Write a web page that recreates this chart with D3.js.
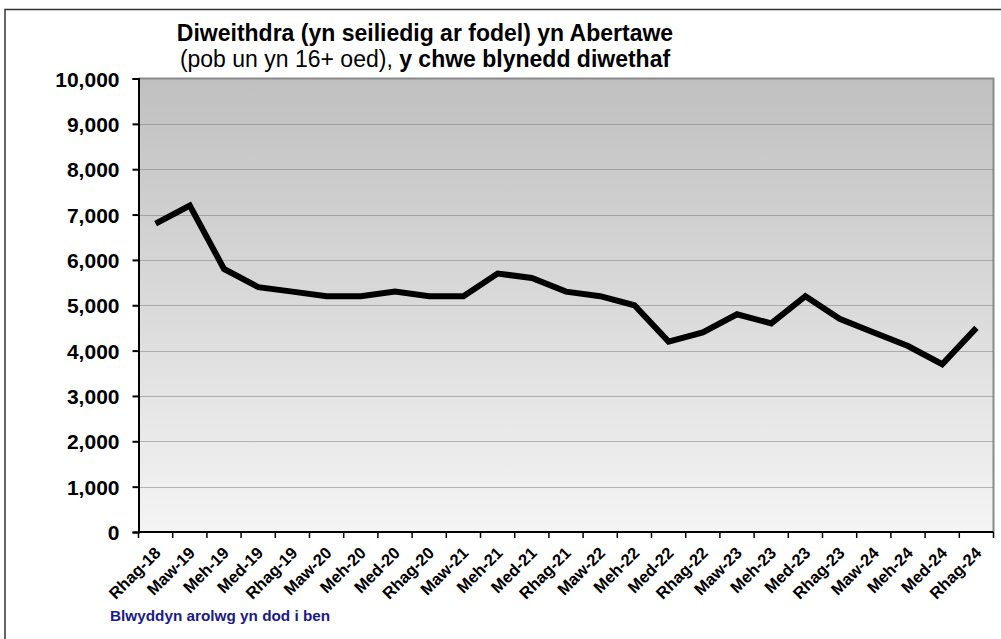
<!DOCTYPE html>
<html>
<head>
<meta charset="utf-8">
<script src="https://cdn.jsdelivr.net/npm/d3@7"></script>
<style>
  body { margin: 0; background: #fff; }
  svg { display: block; font-family: Arial, "Liberation Sans", sans-serif; }
</style>
</head>
<body>
<svg id="chart" width="1001" height="639"></svg>
<script>
"use strict";

var periods = ["Rhag-18", "Maw-19", "Meh-19", "Med-19", "Rhag-19", "Maw-20", "Meh-20", "Med-20",
    "Rhag-20", "Maw-21", "Meh-21", "Med-21", "Rhag-21", "Maw-22", "Meh-22", "Med-22",
    "Rhag-22", "Maw-23", "Meh-23", "Med-23", "Rhag-23", "Maw-24", "Meh-24", "Med-24", "Rhag-24"];
var unemployed = [6800, 7200, 5800, 5400, 5300, 5200, 5200, 5300,
    5200, 5200, 5700, 5600, 5300, 5200, 5000, 4200,
    4400, 4800, 4600, 5200, 4700, 4400, 4100, 3700, 4500];
var yTicks = [0, 1000, 2000, 3000, 4000, 5000, 6000, 7000, 8000, 9000, 10000];

(function () {
    var svg = d3.select("#chart"),
        left = 138.5,
        right = 993.5,
        top = 78.5,
        bottom = 532,
        fmt = d3.format(","),
        x,
        y,
        grad;

    // outer chart frame
    svg.append("path")
        .attr("d", "M5,645V9.5H1010")
        .attr("fill", "none")
        .attr("stroke", "#333")
        .attr("stroke-width", 1.5);

    grad = svg.append("defs").append("linearGradient")
        .attr("id", "bg")
        .attr("x1", 0).attr("y1", 0).attr("x2", 0).attr("y2", 1);
    grad.append("stop").attr("offset", "0%").attr("stop-color", "#c0c0c0");
    grad.append("stop").attr("offset", "100%").attr("stop-color", "#f4f4f4");

    x = d3.scaleBand().domain(periods).range([left, right]);
    y = d3.scaleLinear().domain([0, 10000]).range([bottom, top]);

    svg.append("rect")
        .attr("x", left).attr("y", top)
        .attr("width", right - left).attr("height", bottom - top)
        .attr("fill", "url(#bg)");

    // dotted gridlines
    svg.append("g").selectAll("line")
        .data(yTicks.filter(function (d) { return d > 0 && d < 10000; }))
        .join("line")
        .attr("x1", left).attr("x2", right)
        .attr("y1", function (d) { return Math.round(y(d)) + 0.5; })
        .attr("y2", function (d) { return Math.round(y(d)) + 0.5; })
        .attr("stroke", "#777")
        .attr("stroke-width", 1)
        .attr("stroke-dasharray", "1,1");

    // top and right plot border
    svg.append("path")
        .attr("d", "M" + left + "," + top + "H" + right + "V" + bottom)
        .attr("fill", "none")
        .attr("stroke", "#8a8a8a")
        .attr("stroke-width", 2);

    // y axis
    var yAxis = svg.append("g")
        .attr("transform", "translate(" + left + ",0)")
        .call(d3.axisLeft(y).tickValues(yTicks).tickFormat(fmt).tickSize(6).tickPadding(13));
    yAxis.select(".domain").attr("stroke", "#000").attr("stroke-width", 2);
    yAxis.selectAll(".tick line").attr("stroke", "#000").attr("stroke-width", 2);
    yAxis.selectAll("text")
        .attr("font-size", 21)
        .attr("font-weight", "bold")
        .attr("fill", "#000")
        .attr("dy", "0.36em");

    // x axis: ticks between categories
    var xg = svg.append("g");
    xg.append("line")
        .attr("x1", left).attr("x2", right)
        .attr("y1", bottom).attr("y2", bottom)
        .attr("stroke", "#000").attr("stroke-width", 2);
    xg.selectAll("line.tick")
        .data(periods.concat(["end"]))
        .join("line")
        .attr("class", "tick")
        .attr("x1", function (d, i) { return left + i * x.step(); })
        .attr("x2", function (d, i) { return left + i * x.step(); })
        .attr("y1", bottom).attr("y2", bottom + 6)
        .attr("stroke", "#000").attr("stroke-width", 1.5);
    xg.selectAll("text")
        .data(periods)
        .join("text")
        .attr("transform", function (d) {
            return "translate(" + (x(d) + x.bandwidth() / 2 + 2) + "," + (bottom + 18) + ") rotate(-45)";
        })
        .attr("text-anchor", "end")
        .attr("dy", "0.35em")
        .attr("font-size", 16.5)
        .attr("font-weight", "bold")
        .attr("fill", "#000")
        .text(function (d) { return d; });

    // series line
    svg.append("path")
        .datum(unemployed)
        .attr("fill", "none")
        .attr("stroke", "#000")
        .attr("stroke-width", 6)
        .attr("stroke-linejoin", "miter")
        .attr("d", d3.line()
            .x(function (d, i) { return x(periods[i]) + x.bandwidth() / 2; })
            .y(function (d) { return y(d); }));

    // titles
    svg.append("text")
        .attr("x", 425).attr("y", 41)
        .attr("text-anchor", "middle")
        .attr("font-size", 23)
        .attr("font-weight", "bold")
        .text("Diweithdra (yn seiliedig ar fodel) yn Abertawe");

    var sub = svg.append("text")
        .attr("x", 425).attr("y", 67)
        .attr("text-anchor", "middle")
        .attr("font-size", 23);
    sub.append("tspan").text("(pob un yn 16+ oed), ");
    sub.append("tspan").attr("font-weight", "bold").text("y chwe blynedd diwethaf");

    svg.append("text")
        .attr("x", 110).attr("y", 621)
        .attr("font-size", 15.3)
        .attr("font-weight", "bold")
        .attr("fill", "#1a1a8a")
        .text("Blwyddyn arolwg yn dod i ben");
}());
</script>
</body>
</html>
